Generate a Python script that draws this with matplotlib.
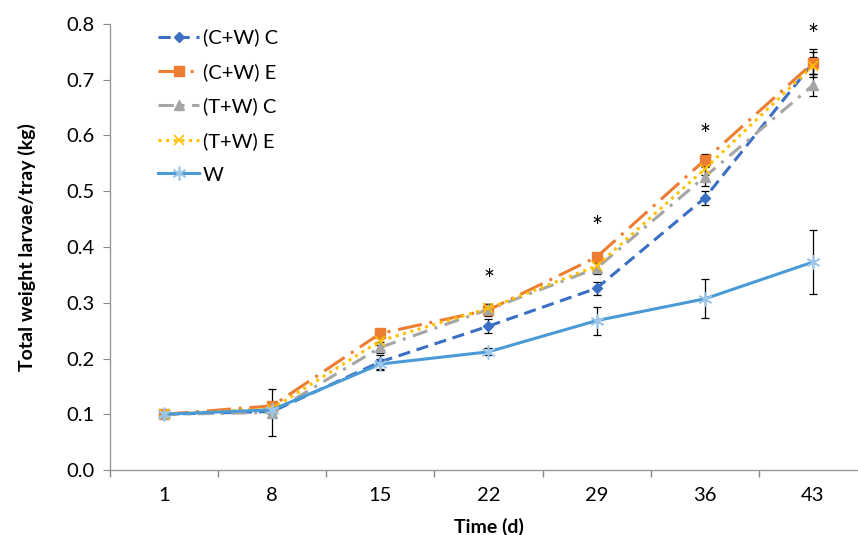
import matplotlib
matplotlib.use("Agg")
import matplotlib.pyplot as plt
import numpy as np

plt.rcParams['font.family'] = ['Lato', 'DejaVu Sans']

days = ["1", "8", "15", "22", "29", "36", "43"]
cw_c = [0.100, 0.105, 0.194, 0.258, 0.326, 0.488, 0.730]
cw_e = [0.100, 0.115, 0.245, 0.287, 0.382, 0.556, 0.730]
tw_c = [0.100, 0.103, 0.220, 0.288, 0.362, 0.526, 0.690]
tw_e = [0.100, 0.110, 0.232, 0.290, 0.366, 0.540, 0.725]
w    = [0.100, 0.108, 0.190, 0.212, 0.268, 0.307, 0.373]

cw_c_err = [0.0, 0.004, 0.012, 0.012, 0.012, 0.013, 0.02]
cw_e_err = [0.0, 0.004, 0.008, 0.010, 0.006, 0.010, 0.025]
tw_c_err = [0.0, 0.042, 0.010, 0.010, 0.010, 0.017, 0.020]
tw_e_err = [0.0, 0.004, 0.008, 0.008, 0.008, 0.010, 0.015]
w_err    = [0.0, 0.004, 0.010, 0.006, 0.025, 0.035, 0.057]

star_days = ["22", "29", "36", "43"]
star_y = [0.338, 0.433, 0.598, 0.778]

fig = plt.figure(figsize=(8.58, 5.35), dpi=100)
ax = fig.add_axes([110/858, 1-470/535, 757/858, 446/535])
x = np.arange(len(days))

series = [
    ("(C+W) C", cw_c, cw_c_err, "#3A6FC4", (0, (4, 2.2)), "D", 5),
    ("(C+W) E", cw_e, cw_e_err, "#ED7D31", (0, (8, 2.5, 1, 2.5)), "s", 7),
    ("(T+W) C", tw_c, tw_c_err, "#A5A5A5", (0, (5, 2.5, 1, 2.5)), "^", 7),
    ("(T+W) E", tw_e, tw_e_err, "#FFC000", (0, (1, 1.5)), "x", 7),
    ("W", w, w_err, "#4A9BD5", "-", (6, 2, 0), 10),
]
for label, vals, err, col, ls, mk, ms in series:
    ax.errorbar(x, vals, yerr=err, fmt='none', ecolor='black', elinewidth=0.9,
                capsize=3, capthick=0.9, zorder=2)
for label, vals, err, col, ls, mk, ms in series:
    mew = 1.2 if label in ("W", "(T+W) E") else 1
    ax.plot(x, vals, color=col, linestyle=ls, linewidth=2.2, marker=mk,
            markersize=ms, markeredgewidth=mew, label=label, zorder=3,
            markerfacecolor=col, markeredgecolor=col if label != "W" else "#9CC7EA")

for d, yv in zip(star_days, star_y):
    ax.text(days.index(d), yv, "*", ha='center', va='center', fontsize=19)

ax.set_xlim(-0.5, len(days) - 0.5)
ax.set_ylim(0, 0.8)
ax.set_yticks(np.arange(0, 0.81, 0.1))
ax.set_yticklabels([f"{v:.1f}" for v in np.arange(0, 0.81, 0.1)])
ax.set_xticks(x)
ax.set_xticklabels(days)
ax.set_xticks(np.arange(-0.5, len(days), 1), minor=True)
ax.tick_params(axis='x', which='major', length=0, pad=12, labelsize=14.5)
ax.tick_params(axis='x', which='minor', length=5, color='#888888', width=1)
ax.tick_params(axis='y', length=5, color='#888888', labelsize=14.5, pad=6)
for s in ['top', 'right']:
    ax.spines[s].set_visible(False)
for s in ['left', 'bottom']:
    ax.spines[s].set_color('#999999')
    ax.spines[s].set_linewidth(1)

ax.set_xlabel("Time (d)", fontsize=14, fontweight='bold', labelpad=10)
ax.set_ylabel("Total weight larvae/tray (kg)", fontsize=14, fontweight='bold', labelpad=22)

leg = ax.legend(loc='upper left', bbox_to_anchor=(0.04, 1.03), frameon=False,
                fontsize=14.5, handlelength=2.0, handletextpad=0.2, labelspacing=0.82)

fig.savefig("out.png", dpi=100)
